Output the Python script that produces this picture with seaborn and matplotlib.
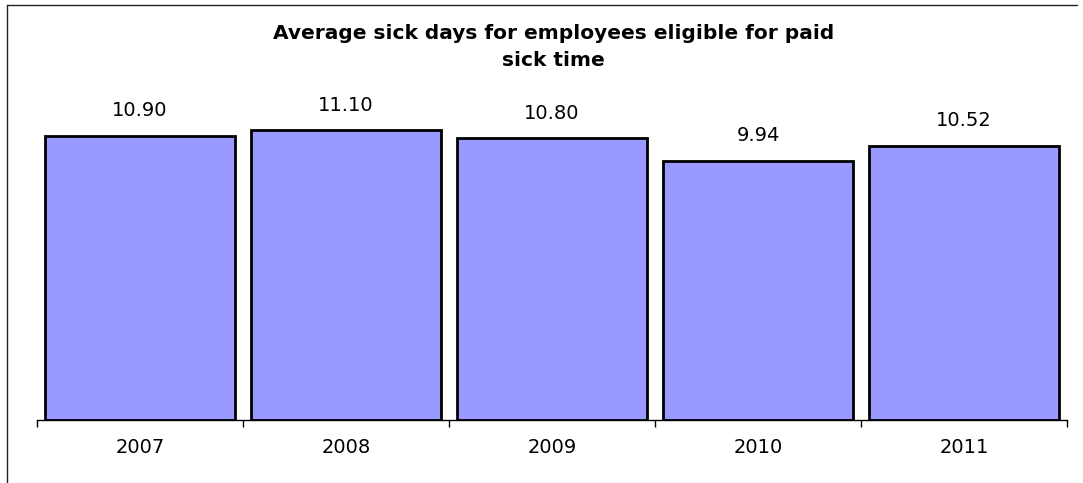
import matplotlib
matplotlib.use("Agg")
import matplotlib.pyplot as plt
from matplotlib.lines import Line2D
from matplotlib.ticker import FixedLocator
import seaborn as sns
import pandas as pd

years = ["2007", "2008", "2009", "2010", "2011"]
sick_days = [10.90, 11.10, 10.80, 9.94, 10.52]

sns.set_theme(style="white")
plt.rcParams["font.family"] = ["DejaVu Sans"]

df = pd.DataFrame({"year": years, "days": sick_days})

fig = plt.figure(figsize=(10.83, 4.83), dpi=100)
ax = fig.add_axes([37 / 1083, 63 / 483, 1030 / 1083, 313 / 483])

sns.barplot(data=df, x="year", y="days", color="#9999FF", saturation=1,
            edgecolor="black", linewidth=2, width=0.92, ax=ax)

ax.set_xlim(-0.5, len(years) - 0.5)
ax.set_ylim(0, 12)
ax.set_xlabel("")
ax.set_ylabel("")
ax.set_yticks([])

for side in ["top", "right", "left"]:
    ax.spines[side].set_visible(False)
ax.spines["bottom"].set_color("black")
ax.spines["bottom"].set_linewidth(1)

# category labels at bar centres, tick marks at category boundaries
ax.tick_params(axis="x", which="major", length=0, labelsize=14, pad=13, colors="black")
ax.xaxis.set_minor_locator(FixedLocator([i - 0.5 for i in range(len(years) + 1)]))
ax.tick_params(axis="x", which="minor", bottom=True, length=5, width=1, direction="out", color="black")

for cont in ax.containers:
    ax.bar_label(cont, labels=[f"{v:.2f}" for v in sick_days], padding=11, fontsize=14, color="black")

fig.text(0.511, 0.951, "Average sick days for employees eligible for paid\nsick time",
         ha="center", va="top", fontsize=14.5, fontweight="bold", linespacing=1.55,
         color="black")

# chart frame edges
fig.add_artist(Line2D([7 / 1083, 7 / 1083], [0, 1 - 5 / 483], transform=fig.transFigure,
                      color="#222222", linewidth=1))
fig.add_artist(Line2D([7 / 1083, 1077 / 1083], [1 - 5 / 483, 1 - 5 / 483], transform=fig.transFigure,
                      color="#222222", linewidth=1))

fig.savefig("out.png", dpi=100)
